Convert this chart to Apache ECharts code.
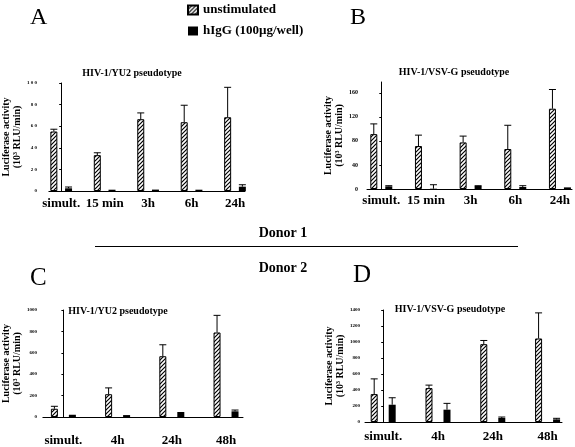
<!DOCTYPE html>
<html>
<head>
<meta charset="utf-8">
<script src="https://cdn.jsdelivr.net/npm/echarts@6/dist/echarts.min.js"></script>
<style>
html,body{margin:0;padding:0;background:#fff;}
#chart{width:575px;height:447px;}
</style>
</head>
<body>
<div id="chart"></div>
<script>
// ---------- data ----------
const catsAB = ['simult.', '15 min', '3h', '6h', '24h'];
const catsCD = ['simult.', '4h', '24h', '48h'];

// Panel A: Donor 1, HIV-1/YU2 pseudotype
const unstimA = [55.1, 33.2, 66.5, 63.7, 68.3];
const unstimSdA = [2.1, 2.2, 5.8, 15.7, 27.7];
const higgA = [2.5, 1.2, 1.3, 1.2, 4.0];
const higgSdA = [1.2, 0, 0, 0, 1.8];

// Panel B: Donor 1, HIV-1/VSV-G pseudotype
const unstimB = [91.3, 71.5, 77.5, 66.5, 133.6];
const unstimSdB = [17.0, 18.1, 10.5, 39.5, 31.9];
const higgB = [4.4, 0.5, 5.0, 3.3, 2.7];
const higgSdB = [1.1, 6.6, 0.5, 2.2, 0];

// Panel C: Donor 2, HIV-1/YU2 pseudotype
const unstimC = [77, 213, 568, 790];
const unstimSdC = [23, 59, 107, 160];
const higgC = [21, 18, 38, 53];
const higgSdC = [0, 0, 4, 12];

// Panel D: Donor 2, HIV-1/VSV-G pseudotype
const unstimD = [349, 424, 973, 1044];
const unstimSdD = [190, 37, 46, 320];
const higgD = [216, 154, 50, 33];
const higgSdD = [87, 79, 12, 13];

const ticksA = [0, 20, 40, 60, 80, 100];
const ticksB = [0, 40, 80, 120, 160];
const ticksC = [0, 200, 400, 600, 800, 1000];
const ticksD = [0, 200, 400, 600, 800, 1000, 1200, 1400];

const NAME_U = 'unstimulated';
const NAME_H = 'hIgG (100\u00b5g/well)';
const YNAME = 'Luciferase activity\n(10\u00b3 RLU/min)';
const SERIF = '"Liberation Serif", "Times New Roman", serif';

// ---------- hatch pattern ----------
const pc = document.createElement('canvas');
pc.width = 4; pc.height = 4;
const g = pc.getContext('2d');
g.fillStyle = '#fff'; g.fillRect(0, 0, 4, 4);
g.strokeStyle = '#000'; g.lineWidth = 1.2;
g.beginPath();
g.moveTo(0, 4); g.lineTo(4, 0);
g.moveTo(-1, 1); g.lineTo(1, -1);
g.moveTo(3, 5); g.lineTo(5, 3);
g.stroke();
const hatch = { image: pc, repeat: 'repeat' };

// ---------- panel builder ----------
const grids = [], xAxes = [], yAxes = [], series = [];

function errRender(offset) {
  return function (params, api) {
    const x = api.value(0), v = api.value(1), t = api.value(2);
    if (!(t > v)) return;
    const p0 = api.coord([x, v]), p1 = api.coord([x, t]);
    const cx = p0[0] + offset;
    return {
      type: 'group',
      children: [
        { type: 'line', shape: { x1: cx, y1: p0[1], x2: cx, y2: p1[1] }, style: { stroke: '#000', lineWidth: 1 } },
        { type: 'line', shape: { x1: cx - 3.5, y1: p1[1], x2: cx + 3.5, y2: p1[1] }, style: { stroke: '#000', lineWidth: 1 } }
      ]
    };
  };
}

function addPanel(p) {
  const idx = grids.length;
  grids.push({ left: p.left, top: p.top, width: p.width, height: p.height, containLabel: false });
  const idxs = p.cats.map((c, i) => i);
  xAxes.push({
    type: 'value', gridIndex: idx, min: p.xmin, max: p.xmax,
    axisLine: { show: true, onZero: false, lineStyle: { color: '#000', width: 1 } },
    axisTick: { show: false },
    splitLine: { show: false },
    axisLabel: {
      customValues: idxs,
      formatter: v => p.cats[Math.round(v)],
      color: '#000', fontFamily: SERIF, fontWeight: 'bold', fontSize: 13,
      margin: p.xLabelMargin
    }
  });
  yAxes.push({
    type: 'value', gridIndex: idx, min: 0, max: p.ymax, interval: p.ticks[1] - p.ticks[0],
    axisLine: { show: true, lineStyle: { color: '#000', width: 1 } },
    axisTick: { show: true, length: 2, lineStyle: { color: '#000' } },
    splitLine: { show: false },
    axisLabel: {
      showMaxLabel: p.showMax,
      formatter: p.spaced ? (v => String(v).split('').join(' ')) : (v => String(v)),
      color: '#000', fontFamily: SERIF, fontWeight: 'bold', fontSize: p.tickFont,
      margin: p.yLabelMargin
    },
    name: YNAME, nameLocation: 'middle', nameRotate: 90, nameGap: p.nameGap,
    nameTextStyle: { color: '#000', fontFamily: SERIF, fontWeight: 'bold', fontSize: 10, lineHeight: 11 }
  });
  const half = p.sep / 2;
  const gapPct = Math.round((p.sep - 7) / 7 * 100) + '%';
  series.push({
    name: NAME_U, type: 'bar', xAxisIndex: idx, yAxisIndex: idx,
    barWidth: 7, barGap: gapPct,
    itemStyle: { color: hatch, borderColor: '#000', borderWidth: 1 },
    data: p.u.map((v, i) => [i, v])
  });
  series.push({
    name: NAME_H, type: 'bar', xAxisIndex: idx, yAxisIndex: idx,
    barWidth: 7, barGap: gapPct,
    itemStyle: { color: '#000' },
    data: p.h.map((v, i) => [i, v])
  });
  series.push({
    type: 'custom', xAxisIndex: idx, yAxisIndex: idx, z: 5,
    renderItem: errRender(-half),
    data: p.u.map((v, i) => [i, v, v + p.uSd[i]])
  });
  series.push({
    type: 'custom', xAxisIndex: idx, yAxisIndex: idx, z: 5,
    renderItem: errRender(half),
    data: p.h.map((v, i) => [i, v, v + p.hSd[i]])
  });
}

addPanel({ cats: catsAB, u: unstimA, uSd: unstimSdA, h: higgA, hSd: higgSdA, ticks: ticksA,
  left: 41, top: 83, width: 204, height: 108, xmin: -0.283, xmax: 4.23, ymax: 100,
  sep: 14.7, xLabelMargin: 6, yLabelMargin: 12, tickFont: 5, spaced: true, showMax: true, nameGap: 18 });
addPanel({ cats: catsAB, u: unstimB, uSd: unstimSdB, h: higgB, hSd: higgSdB, ticks: ticksB,
  left: 367, top: 82, width: 205, height: 107, xmin: -0.32, xmax: 4.27, ymax: 178,
  sep: 15, xLabelMargin: 5, yLabelMargin: 9, tickFont: 6, spaced: false, showMax: false, nameGap: 17 });
addPanel({ cats: catsCD, u: unstimC, uSd: unstimSdC, h: higgC, hSd: higgSdC, ticks: ticksC,
  left: 40, top: 310, width: 203, height: 112, xmin: -0.378, xmax: 3.313, ymax: 1000,
  sep: 18, xLabelMargin: 17, yLabelMargin: 6, tickFont: 5, spaced: false, showMax: true, nameGap: 15 });
addPanel({ cats: catsCD, u: unstimD, uSd: unstimSdD, h: higgD, hSd: higgSdD, ticks: ticksD,
  left: 365, top: 310, width: 197, height: 112, xmin: -0.332, xmax: 3.263, ymax: 1400,
  sep: 18, xLabelMargin: 8, yLabelMargin: 5, tickFont: 5, spaced: false, showMax: true, nameGap: 19 });

function txt(x, y, text, size, weight, align) {
  return { type: 'text', x: x, y: y, style: { text: text, fill: '#000', font: (weight || 'normal') + ' ' + size + 'px ' + SERIF, textAlign: align || 'center', textVerticalAlign: 'middle' } };
}

const graphics = [
  txt(30, 18, 'A', 24, 'normal', 'left'),
  txt(350, 18, 'B', 24, 'normal', 'left'),
  txt(30, 278, 'C', 25, 'normal', 'left'),
  txt(353, 275, 'D', 25, 'normal', 'left'),
  txt(132, 73.5, 'HIV-1/YU2 pseudotype', 10, 'bold'),
  txt(454, 72, 'HIV-1/VSV-G pseudotype', 10, 'bold'),
  txt(118, 311.5, 'HIV-1/YU2 pseudotype', 10, 'bold'),
  txt(450, 309, 'HIV-1/VSV-G pseudotype', 10, 'bold'),
  txt(283, 233, 'Donor 1', 14, 'bold'),
  txt(283, 268.5, 'Donor 2', 14, 'bold'),
  { type: 'line', shape: { x1: 95, y1: 246.5, x2: 518, y2: 246.5 }, style: { stroke: '#000', lineWidth: 1 } }
];

const chart = echarts.init(document.getElementById('chart'), null, { renderer: 'canvas' });
chart.setOption({
  animation: false,
  backgroundColor: '#fff',
  legend: {
    data: [NAME_U, NAME_H], orient: 'vertical', left: 187, top: 3.5, padding: 0,
    icon: 'rect', itemWidth: 10, itemHeight: 9, itemGap: 8,
    textStyle: { color: '#000', fontFamily: SERIF, fontWeight: 'bold', fontSize: 13, lineHeight: 13 }
  },
  grid: grids, xAxis: xAxes, yAxis: yAxes, series: series,
  graphic: graphics
});
</script>
</body>
</html>
